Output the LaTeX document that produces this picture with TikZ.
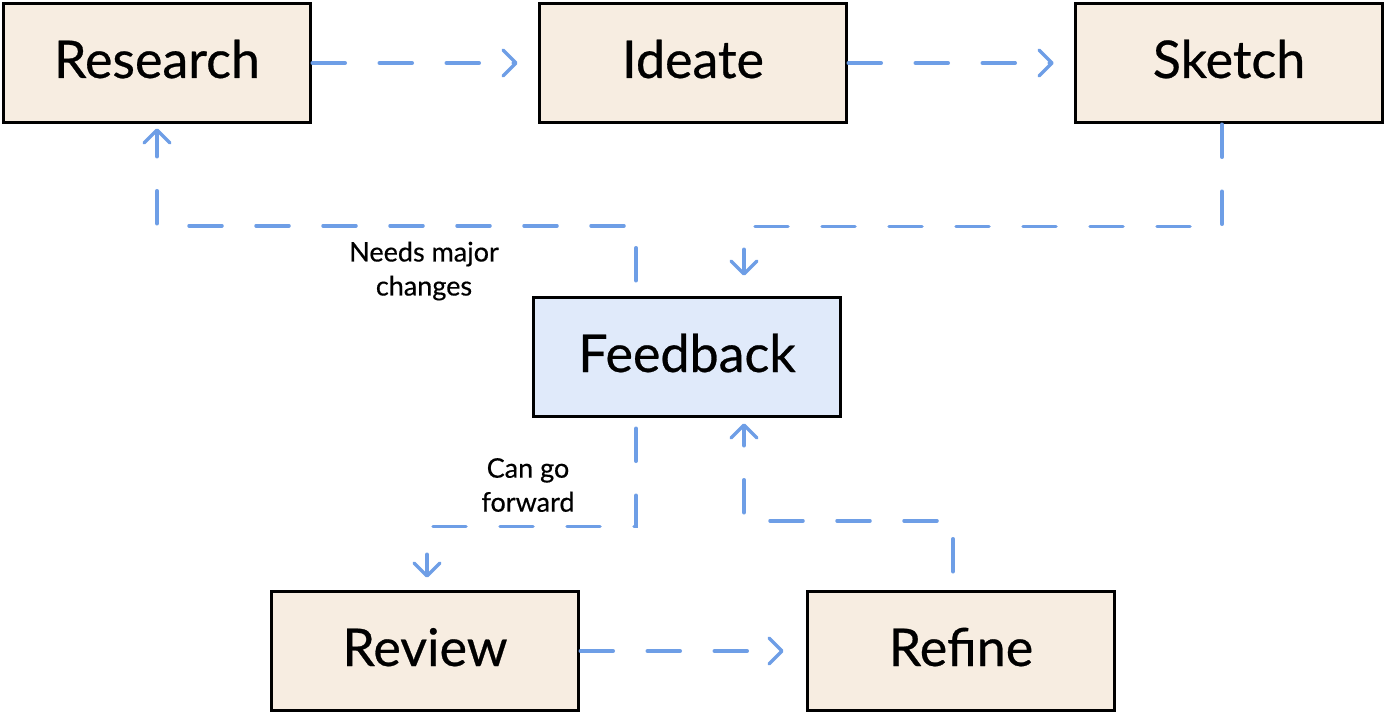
\documentclass[tikz,border=0pt]{standalone}
\usepackage{fontspec}
\setmainfont{Lato}
\newfontfamily\medfont{Lato}[FakeBold=0.5]
\usetikzlibrary{arrows.meta}
\definecolor{boxfill}{HTML}{F7EDE1}
\definecolor{fbfill}{HTML}{E0EAFA}
\definecolor{conncol}{HTML}{6E9EE6}
\begin{document}
\begin{tikzpicture}[x=1pt,y=-1pt,
 box/.style={draw=black,line width=3.5pt,fill=boxfill,minimum width=307pt,minimum height=119pt,font=\medfont\fontsize{52}{60}\selectfont,inner sep=0pt,text height=37pt,text depth=7pt},
 fbbox/.style={box,fill=fbfill},
 conn/.style={draw=conncol,line width=3.5pt,line cap=round,dash pattern=on 33pt off 34pt,-{Straight Barb[length=13pt,width=26pt,line cap=round,line join=round]}},
 lbl/.style={font=\medfont\fontsize{27}{34}\selectfont,align=center}]
\useasboundingbox (0,0) rectangle (1386,714);
\node[box] (research) at (157,63) {Research};
\node[box] (ideate) at (693,63) {Ideate};
\node[box] (sketch) at (1229,63) {Sketch};
\node[fbbox] (feedback) at (687,357) {Feedback};
\node[box] (review) at (425,651) {Review};
\node[box] (refine) at (961,651) {Refine};
\draw[conn] (research.east) -- ([xshift=-20pt]ideate.west);
\draw[conn] (ideate.east) -- ([xshift=-20pt]sketch.west);
\draw[conn] ([xshift=-7pt]sketch.south) -- ++(0,102) -| ([xshift=57pt,yshift=20pt]feedback.north);
\draw[conn] ([xshift=-51pt,yshift=15pt]feedback.north) -- ++(0,-55) -| ([yshift=-4pt]research.south);
\draw[conn] ([xshift=-51pt,yshift=-10pt]feedback.south) -- ++(0,98) -| ([xshift=2pt,yshift=12pt]review.north);
\draw[conn] ([xshift=-8pt,yshift=18pt]refine.north) -- ++(0,-51) -| ([xshift=57pt,yshift=-5pt]feedback.south);
\draw[conn] (review.east) -- ([xshift=-22pt]refine.west);
\node[lbl] (l1) at (424,271) {Needs major\\changes};
\node[lbl] (l2) at (528,485) {Can go\\forward};
\end{tikzpicture}
\end{document}
